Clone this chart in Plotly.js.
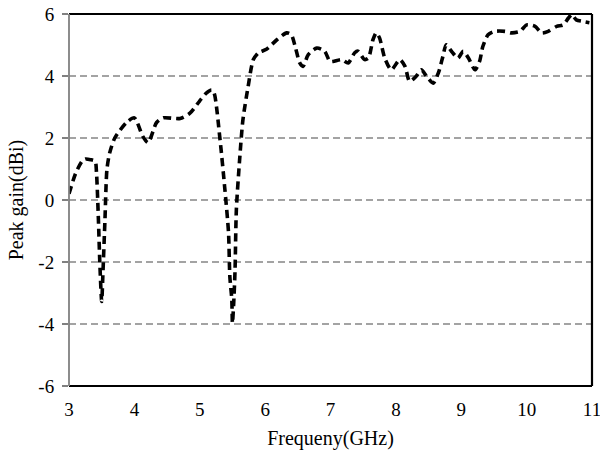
<!DOCTYPE html>
<html>
<head>
<meta charset="utf-8">
<script src="https://cdn.plot.ly/plotly-3.0.1.min.js"></script>
<style>body{margin:0;padding:0;background:#fff;} #chart{width:600px;height:457px;}</style>
</head>
<body>
<div id="chart"></div>
<script>
const freq = [3.0, 3.1, 3.2, 3.25, 3.33, 3.4, 3.42, 3.45, 3.47, 3.5, 3.52, 3.55, 3.58, 3.62, 3.7, 3.88, 4.0, 4.13, 4.21, 4.34, 4.44, 4.7, 4.85, 5.0, 5.1, 5.18, 5.22, 5.31, 5.38, 5.44, 5.46, 5.49, 5.5, 5.52, 5.54, 5.56, 5.61, 5.66, 5.74, 5.82, 5.9, 6.02, 6.18, 6.33, 6.4, 6.46, 6.53, 6.58, 6.66, 6.79, 6.91, 6.99, 7.04, 7.17, 7.27, 7.37, 7.42, 7.52, 7.58, 7.65, 7.70, 7.75, 7.83, 7.93, 8.06, 8.14, 8.21, 8.31, 8.39, 8.47, 8.57, 8.65, 8.72, 8.77, 8.85, 8.95, 9.03, 9.11, 9.21, 9.28, 9.33, 9.41, 9.51, 9.67, 9.77, 9.9, 10.0, 10.13, 10.23, 10.33, 10.46, 10.56, 10.64, 10.69, 10.76, 10.86, 10.96];
const gain = [0.2, 0.85, 1.25, 1.32, 1.3, 1.25, 0.9, -0.64, -1.94, -3.27, -2.3, -0.64, 0.98, 1.5, 2.0, 2.5, 2.65, 2.05, 1.85, 2.5, 2.65, 2.63, 2.8, 3.2, 3.45, 3.55, 3.45, 1.95, 0.44, -1.05, -2.46, -3.2, -3.97, -3.3, -2.25, -0.31, 1.3, 2.58, 3.66, 4.53, 4.75, 4.86, 5.17, 5.39, 5.33, 4.95, 4.42, 4.31, 4.69, 4.9, 4.8, 4.47, 4.47, 4.53, 4.42, 4.75, 4.8, 4.53, 4.58, 5.17, 5.39, 5.23, 4.58, 4.2, 4.53, 4.31, 3.83, 3.99, 4.2, 3.99, 3.77, 4.1, 4.64, 5.01, 4.8, 4.58, 4.8, 4.58, 4.2, 4.47, 4.95, 5.33, 5.44, 5.44, 5.39, 5.44, 5.65, 5.6, 5.39, 5.44, 5.6, 5.65, 5.87, 5.98, 5.81, 5.76, 5.72];
const xTicks = [3, 4, 5, 6, 7, 8, 9, 10, 11];
const yTicks = [-6, -4, -2, 0, 2, 4, 6];
const gridLevels = [-4, -2, 0, 2, 4];

const font = 'Liberation Serif, Times New Roman, serif';
const shapes = gridLevels.map(v => ({
  type: 'line', xref: 'paper', yref: 'y', x0: 0, x1: 1, y0: v, y1: v,
  line: {color: '#858585', width: 1.6, dash: '7px,4px'}, layer: 'below'
}));
shapes.push({type:'line', xref:'paper', yref:'paper', x0:0, x1:1, y0:1, y1:1, line:{color:'#000', width:2.2}});
shapes.push({type:'line', xref:'paper', yref:'paper', x0:1, x1:1, y0:0, y1:1, line:{color:'#000', width:2.2}});
shapes.push({type:'line', xref:'paper', yref:'paper', x0:0, x1:1, y0:0, y1:0, line:{color:'#000', width:2.2}});
shapes.push({type:'line', xref:'paper', yref:'paper', x0:0, x1:0, y0:0, y1:1, line:{color:'#808080', width:1.8}});

const data = [{
  x: freq, y: gain, type: 'scatter', mode: 'lines',
  line: {color: '#000', width: 3.6, dash: '8px,5px', shape: 'spline', smoothing: 0.7},
  hoverinfo: 'skip'
}];

const layout = {
  width: 600, height: 457,
  margin: {l: 69, r: 8, t: 14, b: 71},
  paper_bgcolor: '#fff', plot_bgcolor: '#fff',
  showlegend: false,
  font: {family: font, color: '#000', size: 19},
  xaxis: {
    range: [3, 11], tickvals: xTicks, ticktext: xTicks.map(String),
    showgrid: false, zeroline: false, showline: false, ticks: '',
    ticklabeloverflow: 'allow',
    tickfont: {family: font, size: 19, color: '#000'}, ticklabelstandoff: 10,
    title: {text: 'Frequeny(GHz)', font: {family: font, size: 20, color: '#000'}, standoff: 11}
  },
  yaxis: {
    range: [-6, 6], tickvals: yTicks, ticktext: yTicks.map(String),
    showgrid: false, zeroline: false, showline: false,
    ticks: 'outside', ticklen: 6, tickwidth: 1.5, tickcolor: '#808080',
    ticklabeloverflow: 'allow',
    tickfont: {family: font, size: 19, color: '#000'}, ticklabelstandoff: 4,
    title: {text: 'Peak gain(dBi)', font: {family: font, size: 20, color: '#000'}, standoff: 9}
  },
  shapes: shapes
};

Plotly.newPlot('chart', data, layout, {staticPlot: true, displayModeBar: false});
</script>
</body>
</html>
